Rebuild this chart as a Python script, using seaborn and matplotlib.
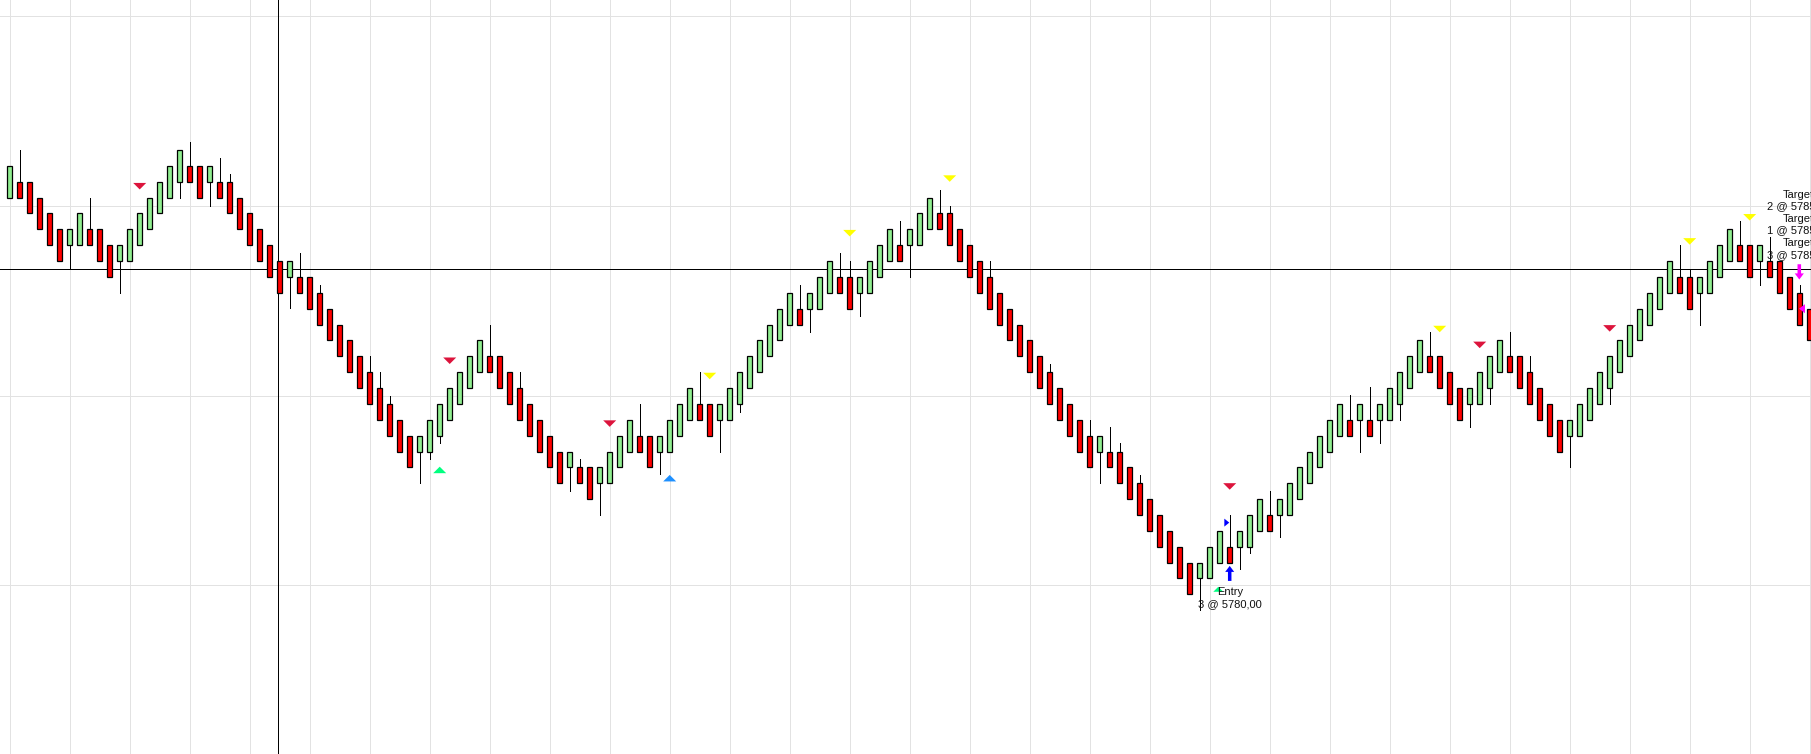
import numpy as np
import pandas as pd
import matplotlib
matplotlib.use("Agg")
import matplotlib.pyplot as plt
from matplotlib.markers import MarkerStyle
from matplotlib.path import Path
import seaborn as sns

# renko bars, one per slot (price in points)
opens = [5786.25, 5786.50, 5786.50, 5786.25, 5786.00, 5785.75, 5785.50, 5785.50, 5785.75, 5785.75,
         5785.50, 5785.25, 5785.25, 5785.50, 5785.75, 5786.00, 5786.25, 5786.50, 5786.75, 5786.75,
         5786.50, 5786.50, 5786.50, 5786.25, 5786.00, 5785.75, 5785.50, 5785.25, 5785.00, 5785.00,
         5785.00, 5784.75, 5784.50, 5784.25, 5784.00, 5783.75, 5783.50, 5783.25, 5783.00, 5782.75,
         5782.50, 5782.25, 5782.25, 5782.50, 5782.75, 5783.00, 5783.25, 5783.50, 5783.75, 5783.75,
         5783.50, 5783.25, 5783.00, 5782.75, 5782.50, 5782.25, 5782.00, 5782.00, 5782.00, 5781.75,
         5781.75, 5782.00, 5782.25, 5782.50, 5782.50, 5782.25, 5782.25, 5782.50, 5782.75, 5783.00,
         5783.00, 5782.75, 5782.75, 5783.00, 5783.25, 5783.50, 5783.75, 5784.00, 5784.25, 5784.50,
         5784.50, 5784.50, 5784.75, 5785.00, 5785.00, 5784.75, 5784.75, 5785.00, 5785.25, 5785.50,
         5785.50, 5785.50, 5785.75, 5786.00, 5786.00, 5785.75, 5785.50, 5785.25, 5785.00, 5784.75,
         5784.50, 5784.25, 5784.00, 5783.75, 5783.50, 5783.25, 5783.00, 5782.75, 5782.50, 5782.25,
         5782.25, 5782.25, 5782.00, 5781.75, 5781.50, 5781.25, 5781.00, 5780.75, 5780.50, 5780.25,
         5780.25, 5780.50, 5780.75, 5780.75, 5780.75, 5781.00, 5781.25, 5781.25, 5781.25, 5781.50,
         5781.75, 5782.00, 5782.25, 5782.50, 5782.75, 5782.75, 5782.75, 5782.75, 5782.75, 5783.00,
         5783.25, 5783.50, 5783.75, 5783.75, 5783.50, 5783.25, 5783.00, 5783.00, 5783.25, 5783.50,
         5783.75, 5783.75, 5783.50, 5783.25, 5783.00, 5782.75, 5782.50, 5782.50, 5782.75, 5783.00,
         5783.25, 5783.50, 5783.75, 5784.00, 5784.25, 5784.50, 5784.75, 5785.00, 5785.00, 5784.75,
         5784.75, 5785.00, 5785.25, 5785.50, 5785.50, 5785.25, 5785.25, 5785.25, 5785.00, 5784.75,
         5784.50]
closes = [5786.75, 5786.25, 5786.00, 5785.75, 5785.50, 5785.25, 5785.75, 5786.00, 5785.50, 5785.25,
          5785.00, 5785.50, 5785.75, 5786.00, 5786.25, 5786.50, 5786.75, 5787.00, 5786.50, 5786.25,
          5786.75, 5786.25, 5786.00, 5785.75, 5785.50, 5785.25, 5785.00, 5784.75, 5785.25, 5784.75,
          5784.50, 5784.25, 5784.00, 5783.75, 5783.50, 5783.25, 5783.00, 5782.75, 5782.50, 5782.25,
          5782.00, 5782.50, 5782.75, 5783.00, 5783.25, 5783.50, 5783.75, 5784.00, 5783.50, 5783.25,
          5783.00, 5782.75, 5782.50, 5782.25, 5782.00, 5781.75, 5782.25, 5781.75, 5781.50, 5782.00,
          5782.25, 5782.50, 5782.75, 5782.25, 5782.00, 5782.50, 5782.75, 5783.00, 5783.25, 5782.75,
          5782.50, 5783.00, 5783.25, 5783.50, 5783.75, 5784.00, 5784.25, 5784.50, 5784.75, 5784.25,
          5784.75, 5785.00, 5785.25, 5784.75, 5784.50, 5785.00, 5785.25, 5785.50, 5785.75, 5785.25,
          5785.75, 5786.00, 5786.25, 5785.75, 5785.50, 5785.25, 5785.00, 5784.75, 5784.50, 5784.25,
          5784.00, 5783.75, 5783.50, 5783.25, 5783.00, 5782.75, 5782.50, 5782.25, 5782.00, 5782.50,
          5782.00, 5781.75, 5781.50, 5781.25, 5781.00, 5780.75, 5780.50, 5780.25, 5780.00, 5780.50,
          5780.75, 5781.00, 5780.50, 5781.00, 5781.25, 5781.50, 5781.00, 5781.50, 5781.75, 5782.00,
          5782.25, 5782.50, 5782.75, 5783.00, 5782.50, 5783.00, 5782.50, 5783.00, 5783.25, 5783.50,
          5783.75, 5784.00, 5783.50, 5783.25, 5783.00, 5782.75, 5783.25, 5783.50, 5783.75, 5784.00,
          5783.50, 5783.25, 5783.00, 5782.75, 5782.50, 5782.25, 5782.75, 5783.00, 5783.25, 5783.50,
          5783.75, 5784.00, 5784.25, 5784.50, 5784.75, 5785.00, 5785.25, 5784.75, 5784.50, 5785.00,
          5785.25, 5785.50, 5785.75, 5785.25, 5785.00, 5785.50, 5785.00, 5784.75, 5784.50, 5784.25,
          5784.00]

# wick ends that stick out of the body: bar -> price
wick_high = {1: 5787.00, 8: 5786.24, 18: 5787.13, 21: 5786.88, 22: 5786.62, 29: 5785.38,
             31: 5784.88, 36: 5783.75, 37: 5783.50, 38: 5783.13, 48: 5784.25, 51: 5783.50,
             57: 5782.13, 63: 5783.00, 69: 5783.50, 79: 5784.88, 83: 5785.38, 84: 5785.25,
             89: 5785.88, 93: 5786.37, 94: 5786.12, 98: 5785.25, 104: 5783.63, 108: 5782.75,
             110: 5782.64, 111: 5782.38, 113: 5781.88, 122: 5781.25, 126: 5781.63, 134: 5783.14,
             136: 5783.26, 142: 5784.13, 150: 5784.13, 152: 5783.75, 167: 5785.50, 168: 5785.13,
             173: 5785.88, 176: 5785.63, 179: 5784.88}
wick_low = {6: 5785.13, 11: 5784.74, 17: 5786.24, 20: 5786.11, 28: 5784.51, 41: 5781.75,
            42: 5782.13, 43: 5782.38, 56: 5781.63, 59: 5781.25, 65: 5781.89, 71: 5782.25,
            73: 5782.88, 80: 5784.13, 85: 5784.38, 90: 5785.00, 109: 5781.75, 119: 5779.76,
            123: 5780.40, 124: 5780.65, 127: 5780.90, 135: 5782.25, 137: 5782.38, 139: 5782.75,
            146: 5782.63, 148: 5783.00, 156: 5782.01, 160: 5783.00, 169: 5784.25, 175: 5784.88}

# signal markers (bar, price)
red_sig_bar = [13, 44, 60, 122, 147, 160]
red_sig_px = [5786.43, 5783.68, 5782.69, 5781.70, 5783.93, 5784.19]
yel_sig_bar = [70, 84, 94, 143, 168, 174]
yel_sig_px = [5783.44, 5785.69, 5786.55, 5784.18, 5785.56, 5785.94]
up_green_bar, up_green_px = [43], [5781.96]
up_blue_bar, up_blue_px = [66], [5781.83]

entry_bar, entry_px = 122, 5780.03
entry_fill = (120.86, 5780.08)
entry_arrow = (122, 5780.33)
entry_tick = (121.71, 5781.13)
exit_arrow = (178.96, 5785.08)
exit_tick = (179.23, 5784.50)
target_labels = ["Target", "2 @ 5785,00", "Target", "1 @ 5785,00", "Target", "3 @ 5785,00"]
target_px = [5786.29, 5786.12, 5785.92, 5785.73, 5785.53, 5785.34]

cross_bar, cross_px = 26.86, 5785.12
grid_px = [5780.14, 5783.13, 5786.12, 5789.11]

sns.set_style("white")
plt.rcParams["font.family"] = ["Liberation Sans", "DejaVu Sans"]

n = len(opens)
bars = pd.DataFrame({"bar": np.arange(n), "open": opens, "close": closes})
bars["top"] = bars[["open", "close"]].max(axis=1)
bars["bottom"] = bars[["open", "close"]].min(axis=1)
bars["high"] = [wick_high.get(i, t) for i, t in zip(bars["bar"], bars["top"])]
bars["low"] = [wick_low.get(i, b) for i, b in zip(bars["bar"], bars["bottom"])]
bars["color"] = np.where(bars["close"] > bars["open"], "#90ee90", "#ff0000")

fig = plt.figure(figsize=(18.11, 7.54), dpi=100)
ax = fig.add_axes([0, 0, 1, 1])

ax.set_xticks(np.arange(0, n + 1, 6))
ax.set_yticks(grid_px)
ax.grid(True, color="#e2e2e2", lw=0.6, antialiased=False)
ax.set_axisbelow(True)
ax.tick_params(left=False, bottom=False, labelleft=False, labelbottom=False)
for s in ax.spines.values():
    s.set_visible(False)

ax.axvline(cross_bar, color="black", lw=0.6, zorder=1, antialiased=False)
ax.axhline(cross_px, color="black", lw=0.6, zorder=1, antialiased=False)

ax.vlines(bars["bar"], bars["low"], bars["high"], color="black", lw=0.6, zorder=2, antialiased=False)
ax.bar(bars["bar"], bars["top"] - bars["bottom"], bottom=bars["bottom"], width=0.55,
       color=bars["color"], edgecolor="black", linewidth=0.9, zorder=3)

tri_down = MarkerStyle(Path([(-1, 0.5), (1, 0.5), (0, -0.5), (-1, 0.5)]))
tri_up = MarkerStyle(Path([(-1, -0.5), (1, -0.5), (0, 0.5), (-1, -0.5)]))
tri_right = MarkerStyle(Path([(-0.31, 0.5), (0.31, 0), (-0.31, -0.5), (-0.31, 0.5)]))
tri_left = MarkerStyle(Path([(0.33, 0.5), (-0.33, 0), (0.33, -0.5), (0.33, 0.5)]))
arrow_up_v = [(0, 7.5), (4.5, 1.5), (1.75, 1.5), (1.75, -7.5), (-1.75, -7.5), (-1.75, 1.5), (-4.5, 1.5), (0, 7.5)]
arrow_up = MarkerStyle(Path(arrow_up_v))
arrow_down = MarkerStyle(Path([(x, -y) for x, y in arrow_up_v]))

def marks(xs, ys, marker, color, size):
    sns.scatterplot(x=xs, y=ys, marker=marker, color=color, s=size,
                    linewidth=0, edgecolor="none", ax=ax, zorder=4, legend=False)

marks(red_sig_bar, red_sig_px, tri_down, "#dc143c", 88)
marks(yel_sig_bar, yel_sig_px, tri_down, "#ffff00", 88)
marks(up_green_bar, up_green_px, tri_up, "#00ff7f", 88)
marks(up_blue_bar, up_blue_px, tri_up, "#1e90ff", 88)
marks([entry_fill[0]], [entry_fill[1]], tri_up, "#00ff7f", 52)
marks([entry_arrow[0]], [entry_arrow[1]], arrow_up, "#0000ff", 117)
marks([entry_tick[0]], [entry_tick[1]], tri_right, "#0000ff", 33)
marks([exit_arrow[0]], [exit_arrow[1]], arrow_down, "#ff00ff", 121)
marks([exit_tick[0]], [exit_tick[1]], tri_left, "#ff00ff", 42)

ax.text(entry_bar, entry_px, "Entry", ha="center", va="center", fontsize=8, color="#111111", zorder=5)
ax.text(entry_bar, 5779.85, "3 @ 5780,00", ha="center", va="center", fontsize=8, color="#111111", zorder=5)
for lab, p in zip(target_labels, target_px):
    ax.text(178.9, p, lab, ha="center", va="center", fontsize=8, color="#111111", zorder=5)

ax.set_xlim(-0.97, 180.13)
ax.set_ylim(5777.485, 5789.363)
ax.set_xlabel("")
ax.set_ylabel("")

fig.savefig("out.png", dpi=100)
